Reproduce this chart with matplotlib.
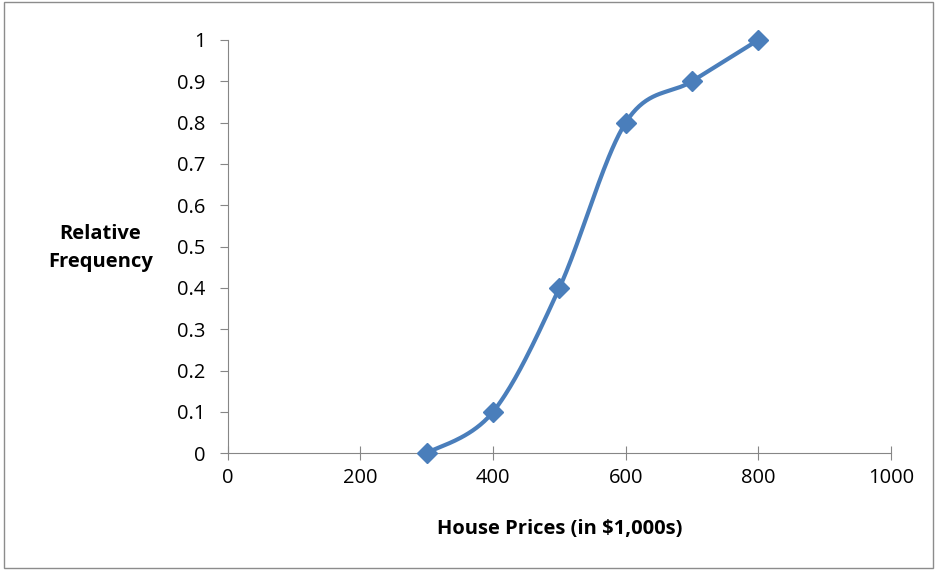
import numpy as np
import matplotlib
matplotlib.use("Agg")
import matplotlib.pyplot as plt
from matplotlib.patches import Rectangle

prices = [300, 400, 500, 600, 700, 800]
rel_freq = [0, 0.1, 0.4, 0.8, 0.9, 1.0]

LINE = "#4A7EBB"
plt.rcParams["font.family"] = ["Open Sans", "DejaVu Sans"]


def smooth(x, y, n=40):
    # Catmull-Rom style Bezier smoothing like Excel's smoothed line
    x = np.asarray(x, float)
    y = np.asarray(y, float)
    px = np.concatenate([[x[0]], x, [x[-1]]])
    py = np.concatenate([[y[0]], y, [y[-1]]])
    xs, ys = [], []
    t = np.linspace(0, 1, n)
    for i in range(1, len(px) - 2):
        p0, p1, p2, p3 = [np.array([px[j], py[j]]) for j in (i - 1, i, i + 1, i + 2)]
        c1 = p1 + (p2 - p0) / 6
        c2 = p2 - (p3 - p1) / 6
        pts = ((1 - t)[:, None] ** 3 * p1 + 3 * ((1 - t) ** 2 * t)[:, None] * c1
               + 3 * ((1 - t) * t ** 2)[:, None] * c2 + (t ** 3)[:, None] * p2)
        xs.extend(pts[:, 0])
        ys.extend(pts[:, 1])
    return xs, ys


fig = plt.figure(figsize=(9.37, 5.7), dpi=100)
fig.patches.append(Rectangle((0.004, 0.004), 0.992, 0.992, transform=fig.transFigure,
                             fill=False, edgecolor="#8c8c8c", lw=1))
ax = fig.add_axes([0.243, 0.205, 0.708, 0.725])

sx, sy = smooth(prices, rel_freq)
ax.plot(sx, sy, color=LINE, lw=3, zorder=2, clip_on=False)
ax.plot(prices, rel_freq, ls="none", marker="D", ms=10, color=LINE, zorder=3, clip_on=False)

ax.set_xlim(0, 1000)
ax.set_ylim(0, 1)
ax.set_xticks(range(0, 1001, 200))
ax.set_yticks(np.arange(0, 1.01, 0.1))
ax.set_yticklabels(["0", "0.1", "0.2", "0.3", "0.4", "0.5", "0.6", "0.7", "0.8", "0.9", "1"])
for s in ("top", "right"):
    ax.spines[s].set_visible(False)
for s in ("left", "bottom"):
    ax.spines[s].set_color("#868686")
ax.tick_params(axis="y", direction="out", length=6, color="#868686", labelsize=14.5, pad=10)
ax.tick_params(axis="x", direction="inout", length=10, color="#868686", labelsize=14.5, pad=6)
ax.set_xlabel("House Prices (in $1,000s)", fontsize=14.5, fontweight="bold", labelpad=22)
fig.text(0.107, 0.565, "Relative\nFrequency", ha="center", va="center",
         fontsize=14.5, fontweight="bold", linespacing=1.5)

fig.savefig("out.png", dpi=100)
